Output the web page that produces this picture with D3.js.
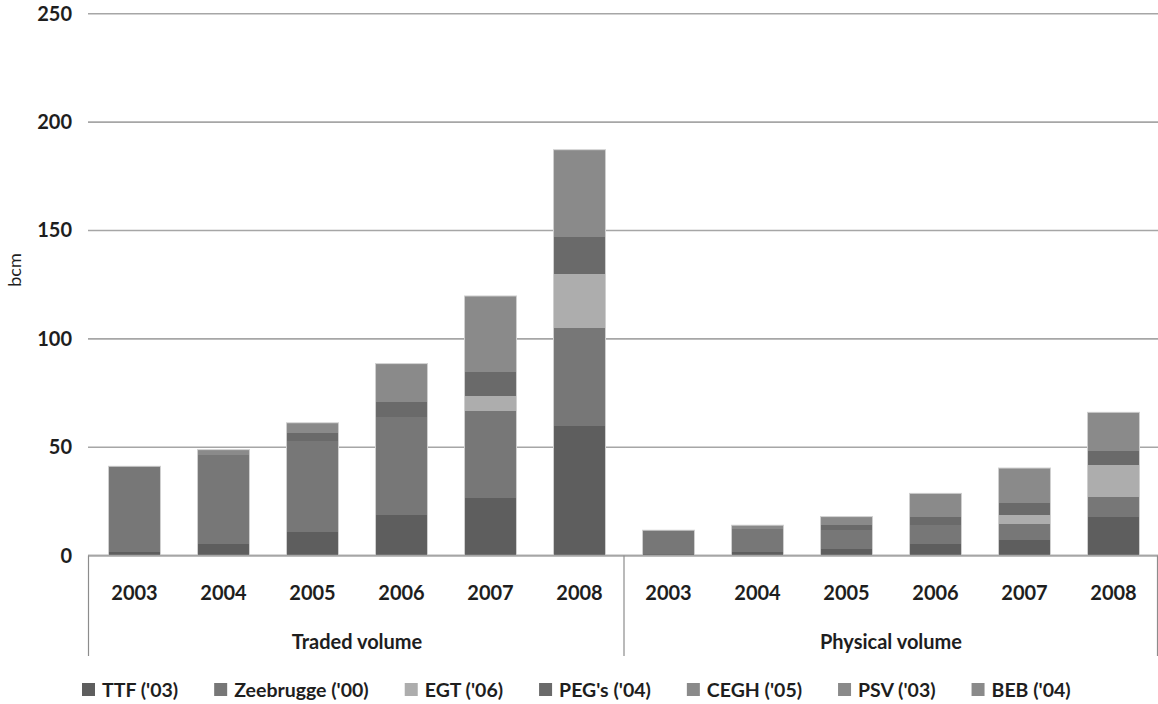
<!DOCTYPE html>
<html>
<head>
<meta charset="utf-8">
<script src="https://cdn.jsdelivr.net/npm/d3@7"></script>
<style>
  html, body { margin: 0; padding: 0; background: #fff; }
  svg { display: block; font-family: Lato, "Open Sans", sans-serif; }
</style>
</head>
<body>
<svg id="chart" width="1158" height="704"></svg>
<script>
// Gas hub volumes, bcm, stacked by hub for each year
const years = ["2003", "2004", "2005", "2006", "2007", "2008"];
const groups = ["Traded volume", "Physical volume"];
const seriesNames = ["TTF ('03)", "Zeebrugge ('00)", "EGT ('06)", "PEG's ('04)", "CEGH ('05)", "PSV ('03)", "BEB ('04)"];
const seriesColors = ["#5e5e5e", "#777777", "#adadad", "#6a6a6a", "#8a8a8a", "#8a8a8a", "#8a8a8a"];
const yTicks = [0, 50, 100, 150, 200, 250];

// Values per series: six traded years followed by six physical years
const ttf       = [1.5, 5.5, 10.9, 18.7, 26.4, 60.0,   0.9, 1.7, 3.0, 5.5, 7.1, 18.0];
const zeebrugge = [39.7, 40.9, 42.1, 45.3, 40.5, 45.0, 10.8, 10.7, 8.7, 8.5, 7.6, 9.2];
const egt       = [0, 0, 0, 0, 6.9, 24.8,              0, 0, 0, 0, 3.9, 14.6];
const pegs      = [0, 0, 3.7, 6.7, 11.1, 17.2,         0, 0, 2.3, 4.0, 5.5, 6.5];
const cegh      = [0, 0, 0.3, 3.5, 11.0, 18.0,         0, 0, 0.5, 2.5, 5.0, 6.2];
const psv       = [0, 1.0, 1.8, 4.4, 7.0, 8.3,         0, 0.6, 1.5, 3.2, 4.3, 4.6];
const beb       = [0, 1.5, 2.5, 10.0, 16.9, 14.0,      0, 1.0, 2.0, 5.0, 7.0, 7.0];

const seriesValues = [ttf, zeebrugge, egt, pegs, cegh, psv, beb];

// Build one row per (group, year)
const rows = [];
groups.forEach((g, gi) => {
  years.forEach((y, yi) => {
    const row = { key: g + "|" + y, group: g, year: y };
    seriesNames.forEach((s, si) => { row[s] = seriesValues[si][gi * years.length + yi]; });
    rows.push(row);
  });
});

const svg = d3.select("#chart");
const left = 90, right = 1158, axisY0 = 555.6, axisTop = 13.8;

const x = d3.scaleBand()
  .domain(rows.map(r => r.key))
  .range([left, right])
  .paddingInner(0.416)
  .paddingOuter(0.208);

const y = d3.scaleLinear().domain([0, 250]).range([axisY0, axisTop]);

// Horizontal gridlines
svg.append("g")
  .selectAll("line")
  .data(yTicks)
  .join("line")
  .attr("x1", 88).attr("x2", right)
  .attr("y1", d => y(d)).attr("y2", d => y(d))
  .attr("stroke", "#a6a6a6")
  .attr("stroke-width", 1.6);

// Y axis labels
const yAxis = d3.axisLeft(y).tickValues(yTicks).tickSize(0).tickPadding(0);
const yg = svg.append("g").attr("transform", "translate(72,0)").call(yAxis);
yg.select(".domain").remove();
yg.selectAll("text")
  .attr("font-family", "Lato, sans-serif")
  .attr("font-size", 20)
  .attr("font-weight", 700)
  .attr("fill", "#1e1e1e");

svg.append("text")
  .attr("transform", `translate(21,270) rotate(-90)`)
  .attr("text-anchor", "middle")
  .attr("font-size", 18)
  .attr("fill", "#1e1e1e")
  .text("bcm");

// Stacked bars
const stack = d3.stack().keys(seriesNames);
const layers = stack(rows);

svg.append("g")
  .attr("shape-rendering", "crispEdges")
  .selectAll("g")
  .data(layers)
  .join("g")
  .attr("fill", (d, i) => seriesColors[i])
  .selectAll("rect")
  .data(d => d)
  .join("rect")
  .attr("x", d => x(d.data.key))
  .attr("width", x.bandwidth())
  .attr("y", d => y(d[1]))
  .attr("height", d => Math.max(0, y(d[0]) - y(d[1])));

// Light outline around each full bar
svg.append("g")
  .selectAll("rect")
  .data(rows)
  .join("rect")
  .attr("x", d => x(d.key))
  .attr("width", x.bandwidth())
  .attr("y", d => y(d3.sum(seriesNames, s => d[s])))
  .attr("height", d => axisY0 - y(d3.sum(seriesNames, s => d[s])))
  .attr("fill", "none")
  .attr("stroke", "#cfcfcf")
  .attr("stroke-width", 1);

// Category axis: baseline, group separators, year and group labels
svg.append("line")
  .attr("x1", 88).attr("x2", right)
  .attr("y1", axisY0).attr("y2", axisY0)
  .attr("stroke", "#a6a6a6").attr("stroke-width", 1.6);

const sepX = [88.5, x(rows[6].key) - x.step() * x.paddingInner() / 2, 1157.5];
svg.append("g")
  .selectAll("line")
  .data(sepX)
  .join("line")
  .attr("x1", d => d).attr("x2", d => d)
  .attr("y1", axisY0).attr("y2", 656)
  .attr("stroke", "#8c8c8c").attr("stroke-width", 1.2);

const xAxis = d3.axisBottom(x).tickSize(0).tickPadding(0).tickFormat(k => k.split("|")[1]);
const xg = svg.append("g").attr("transform", `translate(0,${axisY0 + 44})`).call(xAxis);
xg.select(".domain").remove();
xg.selectAll("text")
  .attr("dy", 0)
  .attr("font-family", "Lato, sans-serif")
  .attr("font-size", 20)
  .attr("font-weight", 700)
  .attr("fill", "#1e1e1e");

svg.append("g")
  .selectAll("text")
  .data(groups)
  .join("text")
  .attr("x", (g, gi) => (x(rows[gi * 6].key) + x(rows[gi * 6 + 5].key) + x.bandwidth()) / 2)
  .attr("y", 649)
  .attr("text-anchor", "middle")
  .attr("font-size", 20)
  .attr("font-weight", 700)
  .attr("fill", "#1e1e1e")
  .text(d => d);

// Legend
const legend = svg.append("g").attr("transform", "translate(82,683)");
let lx = 0;
seriesNames.forEach((name, i) => {
  const item = legend.append("g").attr("transform", `translate(${lx},0)`);
  item.append("rect").attr("width", 13).attr("height", 13).attr("fill", seriesColors[i]);
  const t = item.append("text")
    .attr("x", 20).attr("y", 13.5)
    .attr("font-size", 19.5)
    .attr("font-weight", 700)
    .attr("fill", "#1e1e1e")
    .text(name);
  lx += 20 + t.node().getComputedTextLength() + 36;
});
</script>
</body>
</html>
